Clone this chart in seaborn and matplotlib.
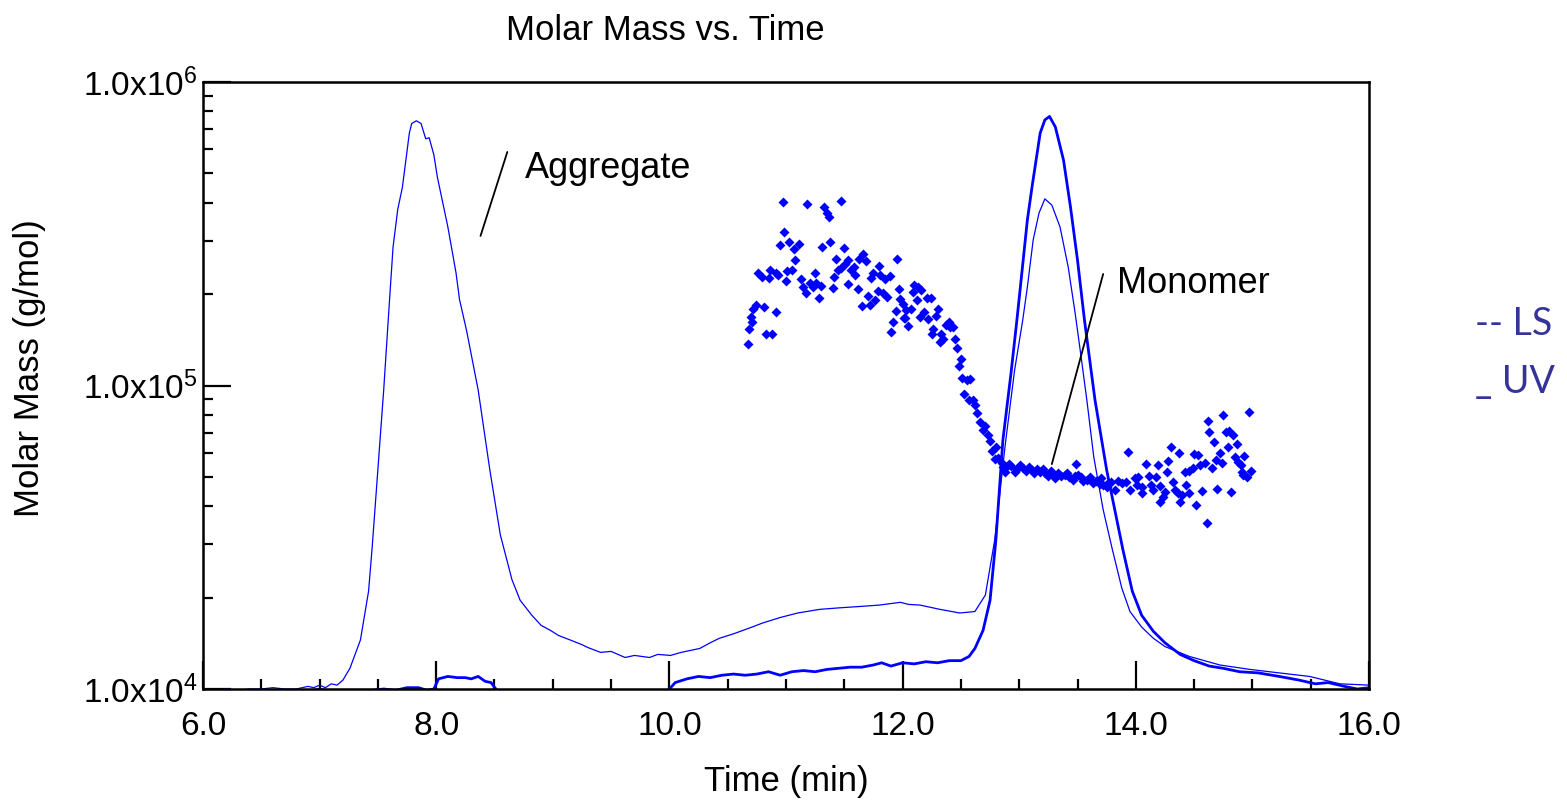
import numpy as np
import pandas as pd
import matplotlib
matplotlib.use("Agg")
import matplotlib.pyplot as plt
import seaborn as sns
from matplotlib.ticker import FixedLocator, MultipleLocator, LogLocator, NullFormatter

# ---------------- data ----------------
# thin trace (time min, molar-mass axis value g/mol)
thin_t = [6.00, 6.10, 6.20, 6.30, 6.40, 6.50, 6.60, 6.70, 6.80, 6.90, 6.95, 7.00, 7.05, 7.10,
          7.15, 7.20, 7.26, 7.35, 7.42, 7.45, 7.50, 7.55, 7.60, 7.63, 7.67, 7.71, 7.77, 7.79,
          7.83, 7.87, 7.91, 7.94, 7.98, 8.01, 8.10, 8.17, 8.20, 8.26, 8.36, 8.46, 8.55, 8.65,
          8.72, 8.82, 8.90, 8.98, 9.05, 9.15, 9.25, 9.30, 9.41, 9.50, 9.62, 9.70, 9.83, 9.90,
          10.01, 10.10, 10.26, 10.35, 10.43, 10.55, 10.69, 10.80, 10.95, 11.10, 11.29, 11.45,
          11.63, 11.80, 11.98, 12.05, 12.15, 12.32, 12.49, 12.62, 12.71, 12.79, 12.88, 12.96,
          13.03, 13.07, 13.12, 13.17, 13.22, 13.28, 13.35, 13.42, 13.48, 13.53, 13.58, 13.64,
          13.72, 13.80, 13.88, 13.95, 14.05, 14.15, 14.25, 14.46, 14.72, 14.98, 15.23, 15.49,
          15.75, 16.00]
thin_m = [1.00e4, 0.99e4, 1.00e4, 0.99e4, 1.00e4, 1.00e4, 1.01e4, 1.00e4, 1.00e4, 1.02e4, 1.01e4,
          1.03e4, 1.01e4, 1.04e4, 1.03e4, 1.07e4, 1.17e4, 1.45e4, 2.1e4, 2.9e4, 5.3e4, 9.7e4,
          1.92e5, 2.86e5, 3.8e5, 4.5e5, 6.8e5, 7.3e5, 7.45e5, 7.3e5, 6.5e5, 6.55e5, 5.75e5,
          4.86e5, 3.33e5, 2.35e5, 1.92e5, 1.52e5, 9.66e4, 5.27e4, 3.22e4, 2.29e4, 1.96e4,
          1.75e4, 1.62e4, 1.56e4, 1.50e4, 1.45e4, 1.40e4, 1.37e4, 1.32e4, 1.33e4, 1.27e4,
          1.29e4, 1.27e4, 1.30e4, 1.29e4, 1.32e4, 1.36e4, 1.42e4, 1.47e4, 1.52e4, 1.59e4,
          1.65e4, 1.72e4, 1.78e4, 1.83e4, 1.85e4, 1.87e4, 1.89e4, 1.93e4, 1.90e4, 1.89e4,
          1.83e4, 1.78e4, 1.80e4, 2.04e4, 3.10e4, 6.37e4, 1.12e5, 1.64e5, 2.11e5, 3.02e5,
          3.70e5, 4.12e5, 3.93e5, 3.33e5, 2.46e5, 1.73e5, 1.25e5, 8.96e4, 5.8e4, 3.9e4,
          2.87e4, 2.15e4, 1.80e4, 1.60e4, 1.47e4, 1.38e4, 1.28e4, 1.20e4, 1.16e4, 1.13e4,
          1.10e4, 1.04e4, 1.03e4]

# thick trace
thick_t = [6.00, 6.50, 6.95, 7.00, 7.05, 7.45, 7.55, 7.65, 7.75, 7.85, 7.92, 7.98, 8.02, 8.10,
           8.18, 8.25, 8.30, 8.36, 8.42, 8.47, 8.52, 8.60, 9.95, 10.00, 10.05, 10.15, 10.25,
           10.35, 10.45, 10.55, 10.65, 10.75, 10.85, 10.95, 11.05, 11.15, 11.25, 11.35, 11.45,
           11.55, 11.65, 11.75, 11.82, 11.90, 12.00, 12.10, 12.20, 12.30, 12.40, 12.50, 12.57,
           12.62, 12.69, 12.75, 12.80, 12.86, 12.93, 12.98, 13.01, 13.07, 13.11, 13.18, 13.22,
           13.26, 13.31, 13.38, 13.44, 13.50, 13.56, 13.65, 13.75, 13.89, 13.97, 14.05, 14.15,
           14.25, 14.38, 14.50, 14.63, 14.75, 14.89, 15.05, 15.23, 15.40, 15.54, 15.65, 15.79,
           15.90, 16.00]
thick_m = [0.97e4, 0.98e4, 0.99e4, 1.00e4, 0.99e4, 0.99e4, 1.00e4, 0.99e4, 1.01e4, 1.01e4,
           0.99e4, 1.00e4, 1.08e4, 1.10e4, 1.09e4, 1.09e4, 1.08e4, 1.10e4, 1.06e4, 1.05e4,
           0.99e4, 0.97e4, 0.97e4, 1.00e4, 1.05e4, 1.08e4, 1.10e4, 1.09e4, 1.11e4, 1.12e4,
           1.11e4, 1.12e4, 1.14e4, 1.11e4, 1.14e4, 1.15e4, 1.14e4, 1.16e4, 1.17e4, 1.18e4,
           1.18e4, 1.20e4, 1.22e4, 1.19e4, 1.22e4, 1.21e4, 1.23e4, 1.22e4, 1.24e4, 1.24e4,
           1.28e4, 1.36e4, 1.56e4, 1.96e4, 3.1e4, 6.6e4, 1.1e5, 1.64e5, 2.11e5, 3.51e5, 4.51e5,
           6.79e5, 7.5e5, 7.7e5, 7.11e5, 5.53e5, 3.87e5, 2.59e5, 1.64e5, 8.96e4, 5.27e4,
           2.87e4, 2.1e4, 1.75e4, 1.55e4, 1.42e4, 1.30e4, 1.24e4, 1.19e4, 1.17e4, 1.14e4,
           1.13e4, 1.10e4, 1.07e4, 1.04e4, 1.05e4, 1.02e4, 1.00e4, 1.01e4]

# molar mass points: time (min) and molar mass in kg/mol
mm_t = [10.97, 11.18, 11.33, 11.47, 11.35, 11.37, 10.98, 10.95, 11.03, 11.11, 11.07, 11.08,
        11.31, 11.38, 11.50, 11.43, 11.66, 11.63, 11.69, 11.95, 11.80, 11.75, 11.53, 11.51,
        11.47, 11.45, 11.58, 11.56, 11.59, 11.25, 11.41, 11.01, 11.05, 10.86, 10.91, 10.93,
        10.76, 10.79, 10.85, 11.00, 11.13, 11.21, 11.26, 11.30, 11.15, 11.17, 11.23, 11.28,
        11.40, 11.53, 11.62, 11.73, 11.81, 11.85, 11.89, 11.79, 11.83, 11.87, 11.70, 11.76,
        11.65, 11.72, 11.97, 11.98, 12.00, 11.94, 12.01, 11.92, 11.90, 10.74, 10.72, 10.81,
        10.91, 10.70, 10.71, 10.68, 10.83, 10.88, 10.67,
        12.10, 12.13, 12.16, 12.09, 12.12, 12.21, 12.24, 12.03, 12.07, 12.02, 12.05, 12.18,
        12.15, 12.22, 12.30, 12.29, 12.40, 12.37, 12.41, 12.43, 12.26, 12.25, 12.33, 12.35,
        12.32, 12.45, 12.47, 12.50, 12.48, 12.51, 12.55, 12.58, 12.53, 12.57, 12.60, 12.62,
        12.64, 12.66, 12.71, 12.69, 12.73, 12.75, 12.80, 12.77, 12.82, 12.79, 12.86, 12.88,
        12.85, 12.89, 12.91, 12.93, 12.96, 13.01, 13.03, 13.08, 13.11, 13.15, 13.18, 13.22,
        13.25, 13.29, 13.33, 13.36, 13.39, 13.43, 13.48, 13.49, 13.50, 13.53, 13.58, 13.61,
        13.63, 13.66, 13.69, 13.72, 13.75, 13.76, 13.79, 13.82, 13.85, 13.88, 13.92, 13.93,
        12.98, 13.06, 13.13, 13.20, 13.27, 13.31, 13.41, 13.46, 13.55, 13.70,
        13.95, 13.99, 14.02, 14.01, 14.05, 14.05, 14.09, 14.11, 14.13, 14.15, 14.17, 14.19,
        14.21, 14.25, 14.23, 14.21, 14.27, 14.28, 14.30, 14.32, 14.34, 14.36, 14.38, 14.37,
        14.40, 14.42, 14.43, 14.46, 14.46, 14.49, 14.50, 14.53, 14.52, 14.55, 14.57, 14.59,
        14.61, 14.62, 14.63, 14.65, 14.67, 14.69, 14.70, 14.72, 14.74, 14.75, 14.77, 14.79,
        14.80, 14.82, 14.83, 14.85, 14.87, 14.88, 14.90, 14.91, 14.93, 14.92, 14.95, 14.97,
        14.99]
mm_k = [401, 395, 388, 405, 371, 358, 320, 290, 298, 293, 281, 260,
        285, 296, 284, 262, 271, 261, 257, 262, 248, 235, 259, 251,
        243, 240, 246, 240, 232, 235, 228, 239, 240, 240, 235, 231,
        234, 227, 226, 221, 225, 217, 218, 212, 211, 202, 211, 194,
        210, 216, 208, 226, 231, 224, 230, 205, 201, 195, 197, 192,
        183, 184, 208, 193, 186, 176, 167, 162, 150, 184, 179, 182,
        174, 168, 162, 154, 148, 148, 137,
        214, 211, 206, 203, 191, 194, 194, 177, 179, 167, 157, 175,
        168, 165, 179, 169, 162, 158, 156, 156, 154, 148, 148, 142,
        139, 142, 133, 122, 116, 106, 104, 105, 93.8, 89.6, 89.4, 86.3,
        81.0, 75.6, 73.5, 71.4, 68.7, 65.8, 62.9, 61.0, 57.8, 57.3, 53.8, 52.0,
        55.4, 54.0, 55.1, 54.3, 51.8, 54.7, 53.4, 54.0, 52.7, 52.9, 52.0, 51.6,
        50.3, 51.0, 51.3, 50.3, 50.7, 49.8, 50.3, 55.0, 50.7, 49.8, 48.8, 49.8,
        47.8, 48.6, 47.4, 47.0, 46.2, 47.8, 48.2, 45.2, 48.6, 47.6, 48.2, 60.5,
        53.0, 52.4, 51.5, 53.0, 52.2, 49.6, 51.5, 48.9, 48.3, 49.4,
        45.2, 49.4, 50.1, 47.0, 46.4, 44.3, 55.1, 50.3, 47.0, 45.2, 49.8, 54.6,
        46.7, 44.7, 43.0, 41.2, 52.0, 56.5, 62.9, 48.2, 45.2, 44.1, 41.4, 60.1,
        43.6, 52.0, 47.0, 44.1, 52.4, 53.4, 59.5, 59.0, 40.4, 54.7, 45.0, 55.4,
        35.2, 76.6, 70.1, 53.6, 65.3, 56.8, 45.5, 60.1, 55.4, 80.1, 70.1, 62.9,
        71.0, 44.7, 68.7, 58.0, 64.1, 56.1, 54.7, 52.0, 58.6, 50.7, 50.1, 82.0,
        52.4]

x_ticks = [6, 8, 10, 12, 14, 16]
x_ticklabels = ["6.0", "8.0", "10.0", "12.0", "14.0", "16.0"]
y_ticks = [1e4, 1e5, 1e6]
y_ticklabels = [r"1.0x10$^{4}$", r"1.0x10$^{5}$", r"1.0x10$^{6}$"]

# ---------------- style ----------------
sns.set_style("ticks")
plt.rcParams["font.family"] = ["Liberation Sans", "DejaVu Sans"]
plt.rcParams["mathtext.fontset"] = "custom"
plt.rcParams["mathtext.rm"] = "Liberation Sans"
plt.rcParams["mathtext.it"] = "Liberation Sans:italic"
plt.rcParams["mathtext.bf"] = "Liberation Sans:bold"
plt.rcParams["text.color"] = "black"
plt.rcParams["axes.labelcolor"] = "black"
plt.rcParams["xtick.color"] = "black"
plt.rcParams["ytick.color"] = "black"

W, H = 1567, 800
fig = plt.figure(figsize=(W / 100, H / 100), dpi=100)
L, R, T, B = 203, 1369, 82, 689
ax = fig.add_axes([L / W, 1 - B / H, (R - L) / W, (B - T) / H])

blue = "#0000FF"
thin_df = pd.DataFrame({"t": thin_t, "m": thin_m})
thick_df = pd.DataFrame({"t": thick_t, "m": thick_m})
pts_df = pd.DataFrame({"t": mm_t, "m": np.array(mm_k) * 1000.0})

sns.lineplot(data=thin_df, x="t", y="m", ax=ax, color=blue, lw=0.9, sort=False, estimator=None, zorder=2)
sns.lineplot(data=thick_df, x="t", y="m", ax=ax, color=blue, lw=2.0, sort=False, estimator=None, zorder=2)
sns.scatterplot(data=pts_df, x="t", y="m", ax=ax, color=blue, marker="D", s=26, linewidth=0, zorder=3)

ax.set_yscale("log")
ax.set_xlim(6, 16)
ax.set_ylim(1e4, 1e6)

ax.xaxis.set_major_locator(FixedLocator(x_ticks))
ax.set_xticklabels(x_ticklabels)
ax.xaxis.set_minor_locator(MultipleLocator(0.5))
ax.yaxis.set_major_locator(FixedLocator(y_ticks))
ax.set_yticklabels(y_ticklabels)
ax.yaxis.set_minor_locator(LogLocator(base=10, subs=np.arange(2, 10)))
ax.yaxis.set_minor_formatter(NullFormatter())

ax.tick_params(axis="x", which="major", direction="in", length=20, width=1.6, labelsize=24, pad=16,
               bottom=True, colors="black")
ax.tick_params(axis="x", which="minor", direction="in", length=7, width=1.6, bottom=True, colors="black")
ax.tick_params(axis="y", which="major", direction="in", length=20, width=1.6, labelsize=24, pad=4,
               left=True, colors="black")
ax.tick_params(axis="y", which="minor", direction="in", length=7, width=1.6, left=True, colors="black")
ax.tick_params(top=False, right=False, which="both")

for s in ax.spines.values():
    s.set_color("black")
    s.set_linewidth(1.8)
    s.set_visible(True)

ax.set_xlabel("")
ax.set_ylabel("")

# annotations
ax.plot([8.61, 8.38], [5.88e5, 3.11e5], color="black", lw=1.3)
ax.text(8.76, 4.83e5, "Aggregate", fontsize=26, ha="left", va="baseline", color="black")
ax.plot([13.72, 13.28], [2.33e5, 5.51e4], color="black", lw=1.3)
ax.text(13.84, 2.02e5, "Monomer", fontsize=26, ha="left", va="baseline", color="black")

# titles and labels
fig.text(665 / W, 1 - 40 / H, "Molar Mass vs. Time", fontsize=25, ha="center", va="baseline", color="black")
fig.text(786 / W, 1 - 781 / H, "Time (min)", fontsize=25, ha="center", va="center", color="black")
fig.text(30 / W, 1 - 368 / H, "Molar Mass (g/mol)", fontsize=25, ha="center", va="center",
         rotation=90, color="black")

# legend-like text
fig.text(1475 / W, 1 - 335 / H, "-- LS", fontsize=27, color="#333399", ha="left", va="baseline",
         family=["Lato", "DejaVu Sans"])
fig.text(1475 / W, 1 - 393 / H, "_ UV", fontsize=27, color="#333399", ha="left", va="baseline",
         family=["Lato", "DejaVu Sans"])

fig.savefig("out.png", dpi=100)
